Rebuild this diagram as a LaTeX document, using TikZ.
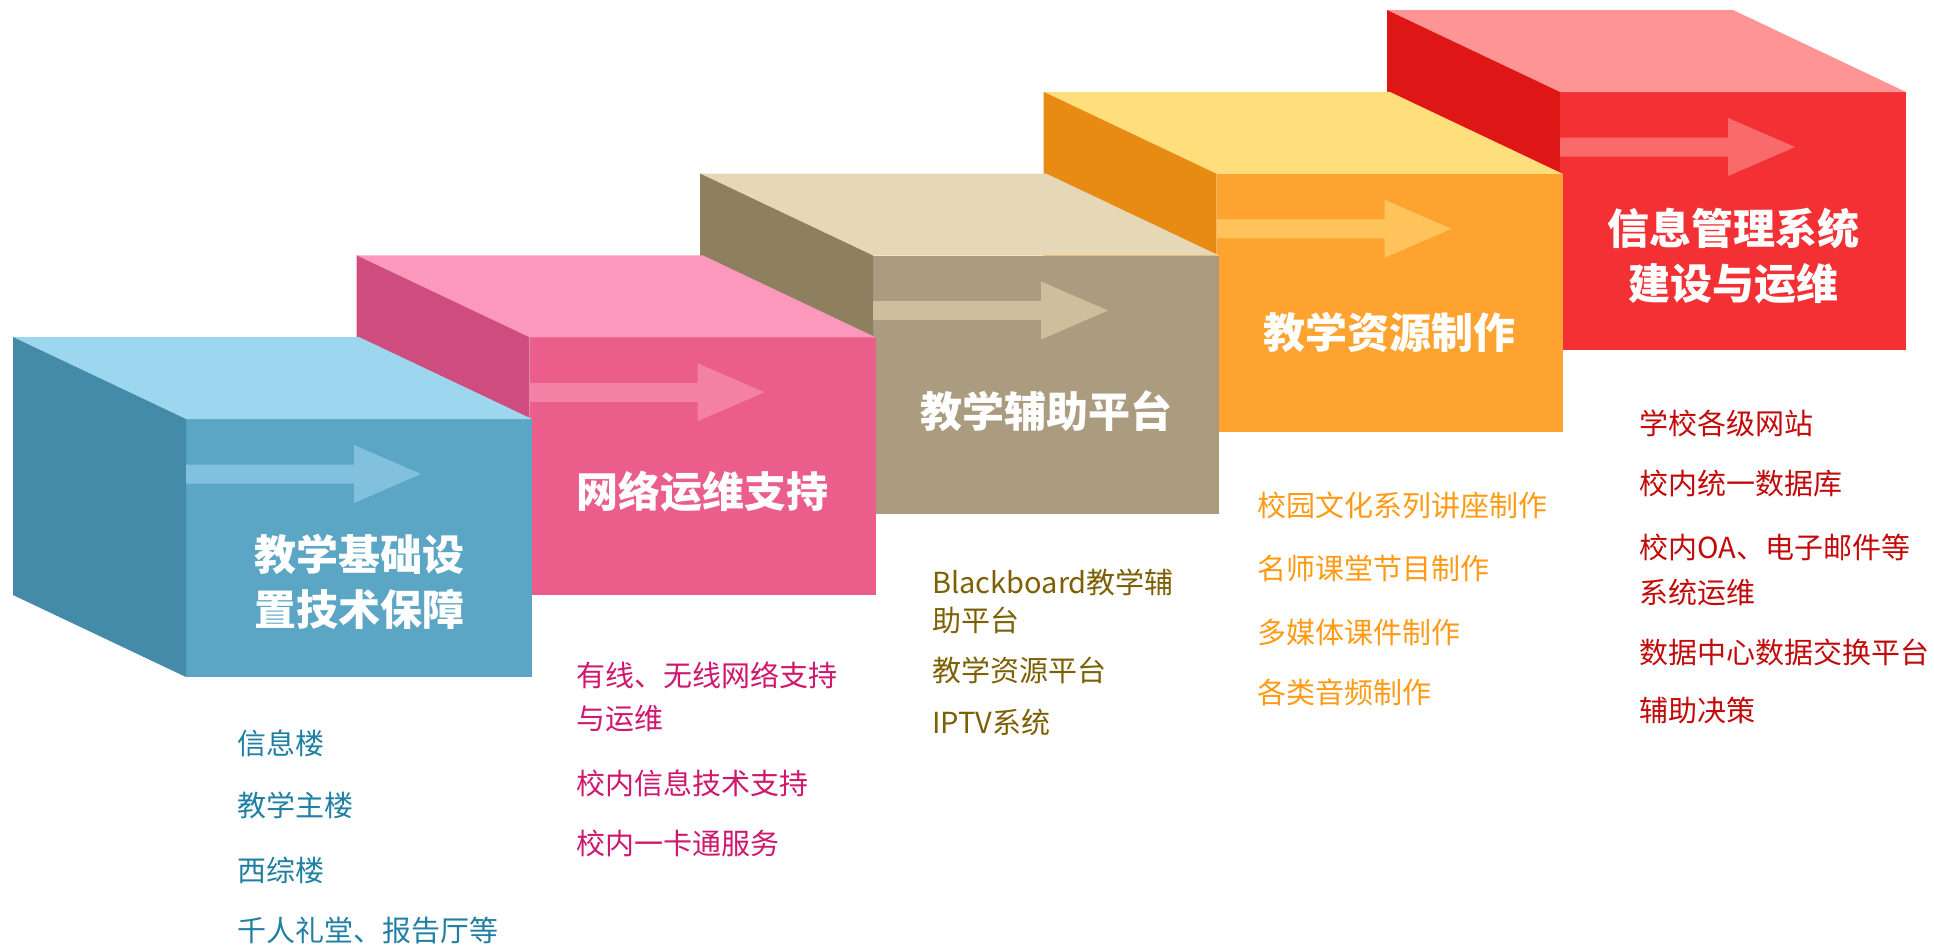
\documentclass[tikz,border=0pt]{standalone}
\usepackage{fontspec}
\setmainfont{Noto Sans CJK SC}
\usepackage{tikz}
\usetikzlibrary{positioning}
% face colours of the steps
\definecolor{topblue}{HTML}{9DD7EF}   \definecolor{leftblue}{HTML}{448BAA}
\definecolor{frontblue}{HTML}{5BA5C5} \definecolor{arrowblue}{HTML}{82C1DE}
\definecolor{toppink}{HTML}{FD98BD}   \definecolor{leftpink}{HTML}{CF4D7E}
\definecolor{frontpink}{HTML}{EB5D8B} \definecolor{arrowpink}{HTML}{F580A6}
\definecolor{toptan}{HTML}{E6D7B6}    \definecolor{lefttan}{HTML}{8E7F5F}
\definecolor{fronttan}{HTML}{AB9C7F}  \definecolor{arrowtan}{HTML}{CDBE9C}
\definecolor{toporange}{HTML}{FFDF7B} \definecolor{leftorange}{HTML}{E78B12}
\definecolor{frontorange}{HTML}{FEA32F} \definecolor{arroworange}{HTML}{FEC35B}
\definecolor{topred}{HTML}{FF9494}    \definecolor{leftred}{HTML}{DE1616}
\definecolor{frontred}{HTML}{F33134}  \definecolor{arrowred}{HTML}{F96B6B}
% list colours
\definecolor{textblue}{HTML}{1F80A2}
\definecolor{textpink}{HTML}{CF176E}
\definecolor{texttan}{HTML}{7D6003}
\definecolor{textorange}{HTML}{FF9A14}
\definecolor{textred}{HTML}{C20A0A}
\tikzset{%
	blocktitle/.style = {text=white, font=\fontsize{42}{55}\selectfont\bfseries, align=center, inner sep=0pt},
	listtext/.style   = {anchor=base west, inner sep=0pt, font=\fontsize{29}{35}\selectfont},
}

\begin{document}
\begin{tikzpicture}[x=1pt,y=-1pt]
		\useasboundingbox (0,0) rectangle (1934,946);
		
		% steps, drawn from back to front
		\foreach \i/\c/\ty/\t [evaluate=\i as \ox using 186+343.5*\i, evaluate=\i as \oy using 419-81.75*\i] in {4/red/164/{信息管理系统\\建设与运维},3/orange/159/教学资源制作,2/tan/156/教学辅助平台,1/pink/154/网络运维支持,0/blue/163/{教学基础设\\置技术保障}} {
			\begin{scope}[shift={(\ox,\oy)}]
				\fill[front\c] (0,0) rectangle (346,258);
				\fill[top\c] (0,0) -- (-173,-82) -- (173,-82) -- (346,0) -- cycle;
				\fill[left\c] (0,0) -- (-173,-82) -- (-173,176) -- (0,258) -- cycle;
				\fill[arrow\c] (0,45.5) -- (168,45.5) -- (168,26) -- (235,55) -- (168,84) -- (168,64.5) -- (0,64.5) -- cycle;
				\node[blocktitle] (title\i) at (173,\ty) {\t};
			\end{scope}
		}
		
		% item lists
		\foreach \y/\t [count=\k] in {743/信息楼,805/教学主楼,870/西综楼,930/千人礼堂、报告厅等} \node[listtext,text=textblue] (blue\k) at (237,\y+11) {\t};
		
		\foreach \y/\t [count=\k] in {675/有线、无线网络支持,718/与运维,783/校内信息技术支持,843/校内一卡通服务} \node[listtext,text=textpink] (pink\k) at (576,\y+11) {\t};
		
		\foreach \y/\t [count=\k] in {582/Blackboard教学辅,620/助平台,670/教学资源平台,722/IPTV系统} \node[listtext,text=texttan] (tan\k) at (932,\y+11) {\t};
		
		\foreach \y/\t [count=\k] in {505/校园文化系列讲座制作,568/名师课堂节目制作,632/多媒体课件制作,692/各类音频制作} \node[listtext,text=textorange] (orange\k) at (1257,\y+11) {\t};
		
		\foreach \y/\t [count=\k] in {423/学校各级网站,483/校内统一数据库,547/校内OA、电子邮件等,592/系统运维,652/数据中心数据交换平台,710/辅助决策} \node[listtext,text=textred] (red\k) at (1639,\y+11) {\t};
		
\end{tikzpicture}
\end{document}
